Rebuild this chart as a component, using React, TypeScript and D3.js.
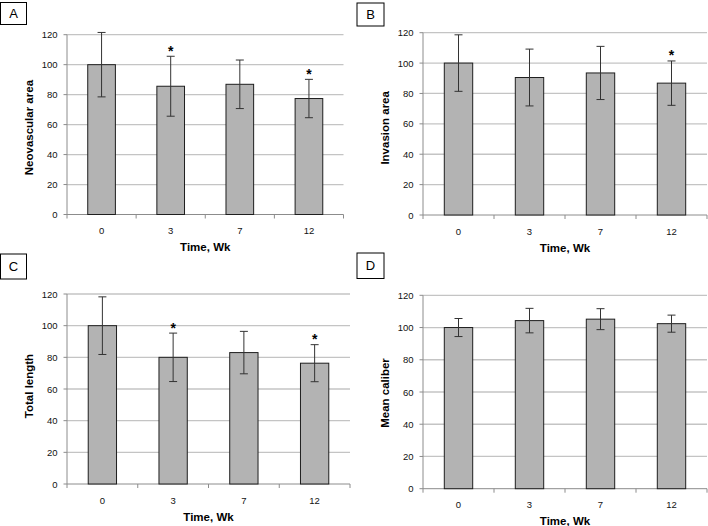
import React from "react";
import * as d3 from "d3";

// ---- data ----
const categories = ["0", "3", "7", "12"];
const yTicks = [0, 20, 40, 60, 80, 100, 120];

const neovascularMean = [100, 85.6, 86.9, 77.4];
const neovascularErr = [21.5, 20.0, 16.2, 12.8];
const neovascularSig = [false, true, false, true];

const invasionMean = [100, 90.5, 93.5, 86.8];
const invasionErr = [18.6, 18.7, 17.5, 14.6];
const invasionSig = [false, false, false, true];

const totalLengthMean = [100, 80.0, 83.0, 76.3];
const totalLengthErr = [18.2, 15.3, 13.4, 11.7];
const totalLengthSig = [false, true, false, true];

const caliberMean = [100, 104.3, 105.2, 102.4];
const caliberErr = [5.6, 7.6, 6.5, 5.3];
const caliberSig = [false, false, false, false];

const panelLetters = ["A", "B", "C", "D"];
const yTitles = ["Neovascular area", "Invasion area", "Total length", "Mean caliber"];
const xTitle = "Time, Wk";

// ---- layout ----
const layouts = [
  { x0: 67, x1: 343.5, yTop: 34.7, yBot: 214.5, box: { x: 0.5, y: 2.5, w: 26, h: 22 }, titleDy: 3 },
  { x0: 423, x1: 707, yTop: 32.7, yBot: 215, box: { x: 357, y: 3, w: 27, h: 23 }, titleDy: 4 },
  { x0: 67, x1: 350, yTop: 294, yBot: 484, box: { x: 0.5, y: 254, w: 26, h: 25 }, titleDy: -3 },
  { x0: 423, x1: 707, yTop: 295.3, yBot: 488.7, box: { x: 357, y: 253, w: 27, h: 25.5 }, titleDy: 1 },
];

const FONT = "'Liberation Sans', Arial, sans-serif";

function Panel({ idx, means, errs, sig }: { idx: number; means: number[]; errs: number[]; sig: boolean[] }) {
  const L = layouts[idx];
  const x = d3.scaleBand<string>().domain(categories).range([L.x0, L.x1]).paddingInner(0.6).paddingOuter(0.3);
  const y = d3.scaleLinear().domain([0, 120]).range([L.yBot, L.yTop]);
  const step = x.step();
  const bw = x.bandwidth();
  const boundaries = d3.range(categories.length + 1).map((i) => L.x0 + i * step);
  const cx = (c: string) => (x(c) as number) + bw / 2;
  return (
    <g>
      <rect x={L.box.x} y={L.box.y} width={L.box.w} height={L.box.h} fill="#fff" stroke="#000" strokeWidth={1} />
      <text x={L.box.x + L.box.w / 2} y={L.box.y + L.box.h / 2 + 4.5} textAnchor="middle" fontSize={13} fontFamily={FONT}>
        {panelLetters[idx]}
      </text>
      {yTicks.slice(1).map((t) => (
        <line key={"g" + t} x1={L.x0} x2={L.x1} y1={y(t)} y2={y(t)} stroke="#c4c4c4" strokeWidth={1.3} />
      ))}
      {yTicks.map((t) => (
        <g key={"t" + t}>
          <line x1={L.x0 - 3.5} x2={L.x0} y1={y(t)} y2={y(t)} stroke="#8c8c8c" strokeWidth={1} />
          <text x={L.x0 - 9.5} y={y(t) + 3.5} textAnchor="end" fontSize={9.5} fontFamily={FONT} fill="#111">
            {t}
          </text>
        </g>
      ))}
      <line x1={L.x0} x2={L.x0} y1={L.yTop} y2={L.yBot} stroke="#8c8c8c" strokeWidth={1} />
      <line x1={L.x0} x2={L.x1} y1={L.yBot} y2={L.yBot} stroke="#8c8c8c" strokeWidth={1} />
      {boundaries.map((b, i) => (
        <line key={"xb" + i} x1={b} x2={b} y1={L.yBot} y2={L.yBot + 4} stroke="#8c8c8c" strokeWidth={1} />
      ))}
      {categories.map((c, i) => (
        <g key={"bar" + c}>
          <rect x={x(c)} y={y(means[i])} width={bw} height={y(0) - y(means[i])} fill="#b3b3b3" stroke="#1e1e1e" strokeWidth={1} />
          <line x1={cx(c)} x2={cx(c)} y1={y(means[i] + errs[i])} y2={y(means[i] - errs[i])} stroke="#333" strokeWidth={1} />
          <line x1={cx(c) - 4} x2={cx(c) + 4} y1={y(means[i] + errs[i])} y2={y(means[i] + errs[i])} stroke="#333" strokeWidth={1} />
          <line x1={cx(c) - 4} x2={cx(c) + 4} y1={y(means[i] - errs[i])} y2={y(means[i] - errs[i])} stroke="#333" strokeWidth={1} />
          {sig[i] && (
            <text x={cx(c)} y={y(means[i] + errs[i]) - 0.5} textAnchor="middle" fontSize={14} fontWeight="bold" fontFamily={FONT}>
              *
            </text>
          )}
          <text x={cx(c)} y={L.yBot + 19.5} textAnchor="middle" fontSize={9.5} fontFamily={FONT} fill="#111">
            {c}
          </text>
        </g>
      ))}
      <text x={(L.x0 + L.x1) / 2} y={L.yBot + 36.5} textAnchor="middle" fontSize={11.5} fontWeight="bold" fontFamily={FONT}>
        {xTitle}
      </text>
      <text
        transform={`translate(${L.x0 - 34.5},${(L.yTop + L.yBot) / 2 + L.titleDy}) rotate(-90)`}
        textAnchor="middle"
        fontSize={11.5}
        fontWeight="bold"
        fontFamily={FONT}
      >
        {yTitles[idx]}
      </text>
    </g>
  );
}

export default function App() {
  return (
    <svg width={708} height={526} style={{ position: "absolute", left: 0, top: 0, background: "#fff" }}>
      <rect x={0} y={0} width={708} height={526} fill="#fff" />
      <Panel idx={0} means={neovascularMean} errs={neovascularErr} sig={neovascularSig} />
      <Panel idx={1} means={invasionMean} errs={invasionErr} sig={invasionSig} />
      <Panel idx={2} means={totalLengthMean} errs={totalLengthErr} sig={totalLengthSig} />
      <Panel idx={3} means={caliberMean} errs={caliberErr} sig={caliberSig} />
    </svg>
  );
}
